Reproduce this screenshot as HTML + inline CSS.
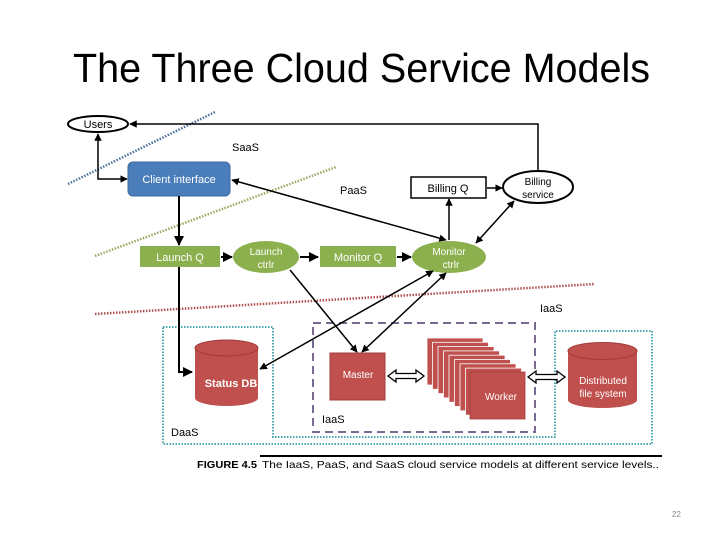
<!DOCTYPE html>
<html><head><meta charset="utf-8"><style>
html,body{margin:0;padding:0;background:#fff;}
svg{display:block;}
text{font-family:"Liberation Sans",sans-serif;}
</style></head><body>
<svg width="720" height="540" viewBox="0 0 720 540" xmlns="http://www.w3.org/2000/svg">
<defs>
<marker id="a" viewBox="0 0 10 10" refX="9" refY="5" markerWidth="5" markerHeight="5" orient="auto-start-reverse"><path d="M0,0 L10,5 L0,10 z" fill="#000"/></marker>
</defs>
<text x="73" y="82" font-size="41" textLength="577" lengthAdjust="spacingAndGlyphs" fill="#000">The Three Cloud Service Models</text>

<!-- dotted layer lines -->
<line x1="68" y1="184" x2="215" y2="112" stroke="#4a6f9a" stroke-width="2.5" stroke-dasharray="1.5,1.5"/>
<line x1="95" y1="256" x2="336" y2="167" stroke="#9aa860" stroke-width="2.5" stroke-dasharray="1.5,1.5"/>
<line x1="95" y1="314" x2="595" y2="284" stroke="#b05050" stroke-width="2.5" stroke-dasharray="1.5,1.5"/>

<!-- DaaS and DFS dotted boxes -->
<path d="M163,327 H273 V437 H555 V331 H652 V444 H163 Z" fill="none" stroke="#4aa8b0" stroke-width="2" stroke-dasharray="1.5,1.5"/>
<rect x="313" y="323" width="222" height="109" fill="none" stroke="#7a6a90" stroke-width="2" stroke-dasharray="8,5"/>

<!-- Users -->
<ellipse cx="98" cy="124" rx="30" ry="8" fill="#fff" stroke="#000" stroke-width="2"/>
<text x="98" y="128" font-size="11" text-anchor="middle">Users</text>
<polyline points="538,171 538,124 130,124" fill="none" stroke="#000" stroke-width="1.5" marker-end="url(#a)"/>
<polyline points="98,134 98,179 127,179" fill="none" stroke="#000" stroke-width="1.5" marker-start="url(#a)" marker-end="url(#a)"/>

<!-- Client interface -->
<rect x="128" y="162" width="102" height="34" rx="5" fill="#4a7ebb" stroke="#3a6aa0"/>
<text x="179" y="183" font-size="11" fill="#fff" text-anchor="middle">Client interface</text>

<text x="232" y="151" font-size="11">SaaS</text>
<text x="340" y="194" font-size="11">PaaS</text>
<text x="540" y="312" font-size="11">IaaS</text>

<!-- Billing -->
<rect x="411" y="177" width="75" height="21" fill="#fff" stroke="#000" stroke-width="1.5"/>
<text x="448" y="192" font-size="11" text-anchor="middle">Billing Q</text>
<ellipse cx="538" cy="187" rx="35" ry="16" fill="#fff" stroke="#000" stroke-width="2"/>
<text x="538" y="185" font-size="10" text-anchor="middle">Billing</text>
<text x="538" y="198" font-size="10" text-anchor="middle">service</text>
<line x1="487" y1="188" x2="502" y2="188" stroke="#000" stroke-width="1.5" marker-end="url(#a)"/>
<line x1="514" y1="201" x2="476" y2="243" stroke="#000" stroke-width="1.5" marker-start="url(#a)" marker-end="url(#a)"/>
<line x1="449" y1="240" x2="449" y2="199" stroke="#000" stroke-width="1.5" marker-end="url(#a)"/>
<line x1="446" y1="240" x2="232" y2="180" stroke="#000" stroke-width="1.5" marker-start="url(#a)" marker-end="url(#a)"/>

<!-- PaaS row -->
<line x1="179" y1="196" x2="179" y2="245" stroke="#000" stroke-width="2" marker-end="url(#a)"/>
<rect x="140" y="246" width="80" height="21" fill="#8db04f"/>
<text x="180" y="261" font-size="11" fill="#fff" text-anchor="middle">Launch Q</text>
<ellipse cx="266" cy="257" rx="33" ry="16" fill="#8db04f"/>
<text x="266" y="255" font-size="10" fill="#fff" text-anchor="middle">Launch</text>
<text x="266" y="268" font-size="10" fill="#fff" text-anchor="middle">ctrlr</text>
<rect x="320" y="246" width="76" height="21" fill="#8db04f"/>
<text x="358" y="261" font-size="11" fill="#fff" text-anchor="middle">Monitor Q</text>
<ellipse cx="449" cy="257" rx="37" ry="16" fill="#8db04f"/>
<text x="449" y="255" font-size="10" fill="#fff" text-anchor="middle">Monitor</text>
<text x="451" y="268" font-size="10" fill="#fff" text-anchor="middle">ctrlr</text>
<line x1="221" y1="257" x2="232" y2="257" stroke="#000" stroke-width="2" marker-end="url(#a)"/>
<line x1="300" y1="257" x2="318" y2="257" stroke="#000" stroke-width="2" marker-end="url(#a)"/>
<line x1="397" y1="257" x2="411" y2="257" stroke="#000" stroke-width="2" marker-end="url(#a)"/>

<!-- down connections -->
<polyline points="179,267 179,372 192,372" fill="none" stroke="#000" stroke-width="2" marker-end="url(#a)"/>
<line x1="290" y1="270" x2="357" y2="352" stroke="#000" stroke-width="1.5" marker-end="url(#a)"/>
<line x1="446" y1="273" x2="362" y2="352" stroke="#000" stroke-width="1.5" marker-start="url(#a)" marker-end="url(#a)"/>
<line x1="433" y1="271" x2="260" y2="369" stroke="#000" stroke-width="1.5" marker-start="url(#a)" marker-end="url(#a)"/>

<!-- Status DB -->
<path d="M195,348 V398 A31.5,8 0 0 0 258,398 V348" fill="#c0504d"/>
<ellipse cx="226.5" cy="348" rx="31.5" ry="8" fill="#c0504d" stroke="#a03c3a"/>
<text x="231" y="387" font-size="11" fill="#fff" font-weight="bold" text-anchor="middle">Status DB</text>

<!-- Master -->
<rect x="330" y="353" width="55" height="47" fill="#c0504d" stroke="#a03c3a"/>
<text x="358" y="378" font-size="10" fill="#fff" text-anchor="middle">Master</text>

<!-- Workers -->
<g fill="#c0504d" stroke="#fff" stroke-width="0.8">
<rect x="427" y="338" width="56" height="47"/>
<rect x="432.5" y="342.3" width="56" height="47"/>
<rect x="438" y="346.6" width="56" height="47"/>
<rect x="443.5" y="350.9" width="56" height="47"/>
<rect x="449" y="355.2" width="56" height="47"/>
<rect x="454.5" y="359.5" width="56" height="47"/>
<rect x="460" y="363.8" width="56" height="47"/>
<rect x="465.5" y="368.1" width="56" height="47"/>
<rect x="470" y="372" width="55" height="47" stroke="#a03c3a"/>
</g>
<text x="501" y="400" font-size="10" fill="#fff" text-anchor="middle">Worker</text>

<!-- hollow double arrows -->
<g fill="#fff" stroke="#000" stroke-width="1.3">
<path d="M388,376 L396,370 V373.5 H416 V370 L424,376 L416,382 V378.5 H396 V382 Z"/>
<path d="M528,377 L536,371 V374.5 H557 V371 L565,377 L557,383 V379.5 H536 V383 Z"/>
</g>

<!-- DFS -->
<path d="M568,351 V400 A34.5,8 0 0 0 637,400 V351" fill="#c0504d"/>
<ellipse cx="602.5" cy="351" rx="34.5" ry="8.5" fill="#c0504d" stroke="#a03c3a"/>
<text x="603" y="384" font-size="10" fill="#fff" text-anchor="middle">Distributed</text>
<text x="603" y="397" font-size="10" fill="#fff" text-anchor="middle">file system</text>

<text x="322" y="423" font-size="11">IaaS</text>
<text x="171" y="436" font-size="11">DaaS</text>

<!-- caption -->
<line x1="260" y1="456" x2="662" y2="456" stroke="#000" stroke-width="2"/>
<text x="197" y="468" font-size="10.5" font-weight="bold" textLength="60" lengthAdjust="spacingAndGlyphs">FIGURE 4.5</text>
<text x="262" y="468" font-size="10.5" textLength="397" lengthAdjust="spacingAndGlyphs">The IaaS, PaaS, and SaaS cloud service models at different service levels..</text>

<text x="672" y="517" font-size="8" fill="#888">22</text>
</svg>
</body></html>
